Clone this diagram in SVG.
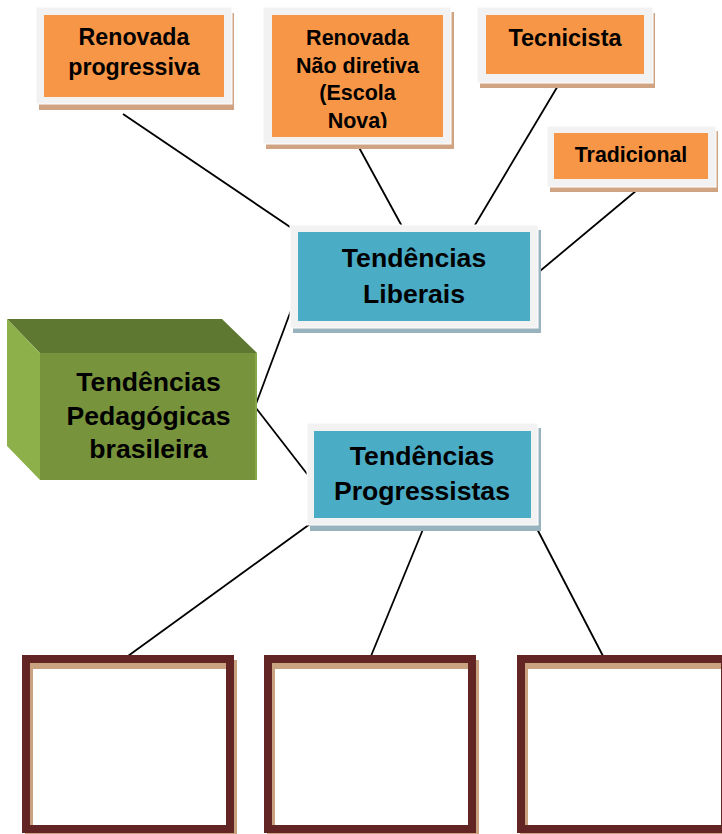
<svg xmlns="http://www.w3.org/2000/svg" width="722" height="834" viewBox="0 0 722 834">
<style>
.frame{fill:#F2F2F2;stroke:#FFFFFF;stroke-width:1}
.osh{fill:#D0A482}
.bsh{fill:#98B3BD}
.org{fill:#F79646}
.blu{fill:#4BACC6}
.t{font-family:"Liberation Sans",Arial,sans-serif;font-weight:bold;fill:#000;text-anchor:middle}
.conn line{stroke:#000;stroke-width:1.8}
.tan{fill:#C9A27F}
.wht{fill:#FFFFFF}
.brn{fill:none;stroke:#632424;stroke-width:8}
</style>
<defs>
<clipPath id="clipB"><rect x="272" y="15" width="171" height="113"/></clipPath>
</defs>
<rect width="722" height="834" fill="#FFFFFF"/>
<g id="connectors" class="conn">
<line x1="123" y1="114" x2="296" y2="231"/>
<line x1="356" y1="142" x2="404" y2="230"/>
<line x1="562" y1="79" x2="472" y2="230"/>
<line x1="649" y1="180" x2="534" y2="276"/>
<line x1="256" y1="404" x2="296" y2="297"/>
<line x1="256" y1="408" x2="311" y2="479"/>
<line x1="310" y1="524" x2="128" y2="656"/>
<line x1="426" y1="522" x2="371" y2="656"/>
<line x1="534" y1="523" x2="603" y2="656"/>
</g>
<g id="renovada-progressiva">
<rect class="osh" x="39" y="13" width="195" height="97"/>
<rect class="frame" x="36" y="7" width="196" height="97"/>
<rect class="org" x="44" y="15" width="180" height="82"/>
<text class="t" font-size="23.2" x="134" y="45">Renovada</text>
<text class="t" font-size="23.2" x="134" y="75">progressiva</text>
</g>
<g id="renovada-nao-diretiva">
<rect class="osh" x="266" y="12" width="188" height="137"/>
<rect class="frame" x="263" y="7" width="188" height="137"/>
<rect class="org" x="272" y="15" width="171" height="122"/>
<g clip-path="url(#clipB)">
<text class="t" font-size="21.5" x="357.5" y="45">Renovada</text>
<text class="t" font-size="21.5" x="357.5" y="72.5">Não diretiva</text>
<text class="t" font-size="21.5" x="357.5" y="100">(Escola</text>
<text class="t" font-size="21.5" x="357.5" y="127.5">Nova)</text>
</g>
</g>
<g id="tecnicista">
<rect class="osh" x="480" y="13" width="175" height="75"/>
<rect class="frame" x="477" y="7" width="176" height="76"/>
<rect class="org" x="486" y="15" width="158" height="59"/>
<text class="t" font-size="23.5" x="565" y="46">Tecnicista</text>
</g>
<g id="tradicional">
<rect class="osh" x="550" y="131" width="168" height="61"/>
<rect class="frame" x="547" y="126" width="169" height="61"/>
<rect class="org" x="554" y="133" width="154" height="46"/>
<text class="t" font-size="21.3" x="631" y="162">Tradicional</text>
</g>
<g id="tendencias-liberais">
<rect class="bsh" x="293" y="230" width="248" height="103"/>
<rect class="frame" x="290" y="225" width="248" height="103"/>
<rect class="blu" x="298" y="232" width="232" height="89"/>
<text class="t" font-size="26.6" x="414" y="267">Tendências</text>
<text class="t" font-size="26.6" x="414" y="302.5">Liberais</text>
</g>
<g id="tendencias-pedagogicas">
<polygon points="7,319 222,319 257,353 40,353" fill="#5E7731"/>
<polygon points="7,319 40,353 40,480 7,446" fill="#8DB04B"/>
<rect x="40" y="353" width="217" height="127" fill="#77933C"/>
<line x1="256" y1="353" x2="256" y2="480" stroke="#8AAE4C" stroke-width="1.5"/>
<text class="t" font-size="26.6" x="148.5" y="391">Tendências</text>
<text class="t" font-size="26.6" x="148.5" y="424.5">Pedagógicas</text>
<text class="t" font-size="26.6" x="148.5" y="458">brasileira</text>
</g>
<g id="tendencias-progressistas">
<rect class="bsh" x="310" y="428" width="231" height="103"/>
<rect class="frame" x="307" y="423" width="231" height="102"/>
<rect class="blu" x="314" y="431" width="217" height="87"/>
<text class="t" font-size="26.6" x="422" y="464.5">Tendências</text>
<text class="t" font-size="26.6" x="422" y="500">Progressistas</text>
</g>
<g id="box1">
<rect class="tan" x="25" y="660" width="212" height="174"/>
<rect class="wht" x="33" y="669" width="193" height="156"/>
<rect class="brn" x="26" y="659" width="204" height="170"/>
</g>
<g id="box2">
<rect class="tan" x="267" y="660" width="212" height="174"/>
<rect class="wht" x="275" y="669" width="193" height="156"/>
<rect class="brn" x="268" y="659" width="204" height="170"/>
</g>
<g id="box3">
<rect class="tan" x="520" y="660" width="212" height="174"/>
<rect class="wht" x="528" y="669" width="193" height="156"/>
<rect class="brn" x="521" y="659" width="204" height="170"/>
</g>
</svg>
